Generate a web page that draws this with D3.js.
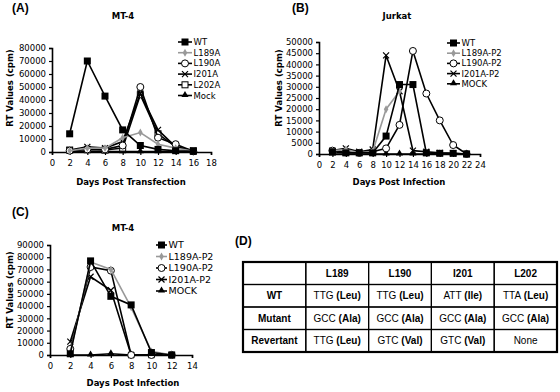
<!DOCTYPE html>
<html lang="en">
<head>
<meta charset="utf-8">
<script src="https://d3js.org/d3.v7.min.js"></script>
<style>
  body { margin: 0; background: #fff; }
  .tick text { font-family: "DejaVu Sans", Verdana, sans-serif; font-size: 8.5px; fill: #000; }
  .axisLbl { font-family: "DejaVu Sans", Verdana, sans-serif; font-size: 8.5px; font-weight: bold; }
  .title { font-family: "DejaVu Sans", Verdana, sans-serif; font-size: 8.5px; font-weight: bold; }
  .panel { font-family: "Liberation Sans", Arial, sans-serif; font-size: 12px; font-weight: bold; }
  .leg { font-family: "DejaVu Sans", Verdana, sans-serif; }
  .cell { font-family: "Liberation Sans", Arial, sans-serif; font-size: 10px; }
</style>
</head>
<body>
<script>
// ---- panel A : MT-4, days post transfection ----
var daysA = [2, 4, 6, 8, 10, 12, 14, 16];
var wtA    = [14000, 70000, 43000, 17000, 5000, 2000, 1000, 500];
var l189aA = [1000, 3000, 3000, 11000, 15000, 6000, 3000, 500];
var l190aA = [1000, 2000, 2000, 5000, 50000, 11000, 6000, 500];
var i201aA = [1500, 4000, 3000, 8000, 45000, 17000, 4000, 1000];
var l202aA = [1500, 2000, 1500, 3000, 44000, 14000, 4000, 1000];
var mockA  = [300, 300, 300, 300, 300, 300, 300, 300];
var namesA = ["WT", "L189A", "L190A", "I201A", "L202A", "Mock"];

// ---- panel B : Jurkat ----
var daysB = [2, 4, 6, 8, 10, 12, 14, 16, 18, 20, 22];
var wtB    = [1000, 500, 500, 500, 8000, 31000, 31000, 500, 300, 300, 0];
var l189bB = [1500, 2000, 500, 1000, 20000, 28000];
var l190bB = [1500, 1000, 500, 1000, 2500, 13000, 46000, 27000, 15000, 4000, 0];
var i201bB = [1500, 2500, 1000, 2000, 44000, 28000, 1500, 1000, 500, 300, 0];
var mockB  = [0, 0, 0, 0, 0, 0, 0, 0, 0, 0, 0];
var namesB = ["WT", "L189A-P2", "L190A-P2", "I201A-P2", "MOCK"];

// ---- panel C : MT-4, days post infection ----
var daysC = [2, 4, 6, 8, 10, 12];
var wtC    = [1000, 77000, 48000, 41000, 2000, 0];
var l189cC = [2000, 76000, 70000, 39000, 3000, 0];
var l190cC = [5000, 72000, 69000, 0, 0, 0];
var i201cC = [11000, 64000, 53000, 0, 0, 0];
var mockC  = [0, 0, 1000, 0, 0, 0];
var namesC = ["WT", "L189A-P2", "L190A-P2", "I201A-P2", "MOCK"];

// ---- panel D : table ----
var colHeads = ["", "L189", "L190", "I201", "L202"];
var rowHeads = ["WT", "Mutant", "Revertant"];
var codons = [["TTG", "TTG", "ATT", "TTA"],
              ["GCC", "GCC", "GCC", "GCC"],
              ["TTG", "GTC", "GTC", "None"]];
var aminos = [["Leu", "Leu", "Ile", "Leu"],
              ["Ala", "Ala", "Ala", "Ala"],
              ["Leu", "Val", "Val", ""]];

var svg = d3.select("body").append("svg")
    .attr("width", 560).attr("height", 392);

function marker(g, type, x, y) {
    if (type == "square") {
        g.append("rect").attr("x", x - 3.5).attr("y", y - 3.5).attr("width", 7).attr("height", 7)
            .attr("fill", "#000");
    } else if (type == "osquare") {
        g.append("rect").attr("x", x - 3).attr("y", y - 3).attr("width", 6).attr("height", 6)
            .attr("fill", "#fff").attr("stroke", "#000").attr("stroke-width", 1);
    } else if (type == "diamond") {
        g.append("path").attr("d", d3.symbol().type(d3.symbolDiamond).size(18)())
            .attr("transform", "translate(" + x + "," + y + ")").attr("fill", "#999");
    } else if (type == "circle") {
        g.append("circle").attr("cx", x).attr("cy", y).attr("r", 3.5)
            .attr("fill", "#fff").attr("stroke", "#000").attr("stroke-width", 1);
    } else if (type == "cross") {
        g.append("path").attr("d", "M" + (x - 3) + "," + (y - 3) + "L" + (x + 3) + "," + (y + 3) +
            "M" + (x - 3) + "," + (y + 3) + "L" + (x + 3) + "," + (y - 3))
            .attr("stroke", "#000").attr("stroke-width", 1.2);
    } else if (type == "triangle") {
        g.append("path").attr("d", d3.symbol().type(d3.symbolTriangle).size(22)())
            .attr("transform", "translate(" + x + "," + (y - 0.5) + ")").attr("fill", "#000");
    }
}

function drawPanel(opt) {
    var x = d3.scaleLinear().domain([0, opt.xmax]).range(opt.xr);
    var y = d3.scaleLinear().domain([0, opt.ymax]).range(opt.yr);

    var xAxis = svg.append("g").attr("transform", "translate(0," + opt.yr[0] + ")")
        .call(d3.axisBottom(x).tickValues(d3.range(0, opt.xmax + 1, 2)).tickSize(3).tickPadding(5));
    var yAxis = svg.append("g").attr("transform", "translate(" + opt.xr[0] + ",0)")
        .call(d3.axisLeft(y).tickValues(d3.range(0, opt.ymax + 1, opt.ystep))
            .tickSize(3).tickPadding(3).tickFormat(d3.format("d")));
    [xAxis, yAxis].forEach(function (a) {
        a.select(".domain").attr("stroke-width", 1.6);
        a.selectAll(".tick line").attr("stroke-width", 1.2);
    });

    var line = d3.line().x(function (d) { return x(d[0]); }).y(function (d) { return y(d[1]); });

    // draw last series first so WT ends on top
    opt.series.slice().reverse().forEach(function (s) {
        var pts = s.vals.map(function (v, i) { return [opt.days[i], v]; });
        var g = svg.append("g");
        g.append("path").attr("d", line(pts)).attr("fill", "none")
            .attr("stroke", s.color).attr("stroke-width", 1.6);
        pts.forEach(function (p) { marker(g, s.type, x(p[0]), y(p[1])); });
    });

    // legend
    opt.series.forEach(function (s, i) {
        var ly = opt.leg[1] + i * opt.leg[3];
        var g = svg.append("g");
        g.append("line").attr("x1", opt.leg[0]).attr("x2", opt.leg[0] + opt.leg[2])
            .attr("y1", ly).attr("y2", ly).attr("stroke", s.color).attr("stroke-width", 1.6);
        marker(g, s.type, opt.leg[0] + opt.leg[2] / 2, ly);
        svg.append("text").attr("class", "leg").style("font-size", opt.legFont + "px")
            .attr("x", opt.leg[0] + opt.leg[2] + 1.5)
            .attr("y", ly + opt.legFont * 0.36).text(s.name);
    });

    svg.append("text").attr("class", "title").attr("text-anchor", "middle")
        .attr("x", opt.titlePos[0]).attr("y", opt.titlePos[1]).text(opt.title);
    svg.append("text").attr("class", "axisLbl").attr("text-anchor", "middle")
        .attr("x", opt.xlblPos[0]).attr("y", opt.xlblPos[1]).text(opt.xlbl);
    svg.append("text").attr("class", "axisLbl").attr("text-anchor", "middle")
        .attr("transform", "translate(" + opt.ylblPos[0] + "," + opt.ylblPos[1] + ") rotate(-90)")
        .text("RT Values (cpm)");
    svg.append("text").attr("class", "panel").attr("x", opt.panelPos[0]).attr("y", opt.panelPos[1])
        .text(opt.panel);
}

var types6 = ["square", "diamond", "circle", "cross", "osquare", "triangle"];
var types5 = ["square", "diamond", "circle", "cross", "triangle"];
function colorOf(t) { return t == "diamond" ? "#999" : "#000"; }
function makeSeries(vals, names, types) {
    return vals.map(function (v, i) {
        return {vals: v, name: names[i], type: types[i], color: colorOf(types[i])};
    });
}

drawPanel({
    days: daysA, xmax: 18, ymax: 80000, ystep: 10000, xr: [52, 211], yr: [152, 48],
    series: makeSeries([wtA, l189aA, l190aA, i201aA, l202aA, mockA], namesA, types6),
    leg: [178, 42, 14, 10.7], legFont: 8.5, title: "MT-4", titlePos: [123, 19],
    xlbl: "Days Post Transfection", xlblPos: [131, 185], ylblPos: [13, 88],
    panel: "(A)", panelPos: [12, 12]
});

drawPanel({
    days: daysB, xmax: 24, ymax: 50000, ystep: 5000, xr: [319, 480], yr: [154, 42],
    series: makeSeries([wtB, l189bB, l190bB, i201bB, mockB], namesB, types5),
    leg: [447, 43, 13, 10.2], legFont: 8.5, title: "Jurkat", titlePos: [397, 19],
    xlbl: "Days Post Infection", xlblPos: [399, 185], ylblPos: [282, 88],
    panel: "(B)", panelPos: [292, 12]
});

drawPanel({
    days: daysC, xmax: 14, ymax: 90000, ystep: 10000, xr: [50, 192], yr: [355, 245],
    series: makeSeries([wtC, l189cC, l190cC, i201cC, mockC], namesC, types5),
    leg: [156, 245, 11, 11.5], legFont: 9.5, title: "MT-4", titlePos: [123, 231],
    xlbl: "Days Post Infection", xlblPos: [133, 386], ylblPos: [13, 290],
    panel: "(C)", panelPos: [12, 216]
});

// ---- table (D) ----
var cx = d3.scaleBand().domain(d3.range(colHeads.length)).range([243, 557]);
var ry = d3.scaleBand().domain(d3.range(rowHeads.length + 1)).range([262, 352]);
var tg = svg.append("g");
svg.append("text").attr("class", "panel").attr("x", 235).attr("y", 245).text("(D)");

for (var r = 0; r <= rowHeads.length; r++) {
    for (var c = 0; c < colHeads.length; c++) {
        tg.append("rect").attr("x", cx(c)).attr("y", ry(r))
            .attr("width", cx.bandwidth()).attr("height", ry.bandwidth())
            .attr("fill", "none").attr("stroke", "#000").attr("stroke-width", 1.2);
        var t = tg.append("text").attr("class", "cell").attr("text-anchor", "middle")
            .attr("x", cx(c) + cx.bandwidth() / 2).attr("y", ry(r) + ry.bandwidth() / 2 + 3.5);
        if (r == 0) {
            t.attr("font-weight", "bold").text(colHeads[c]);
        } else if (c == 0) {
            t.attr("font-weight", "bold").text(rowHeads[r - 1]);
        } else {
            t.append("tspan").text(codons[r - 1][c - 1]);
            if (aminos[r - 1][c - 1] != "")
                t.append("tspan").attr("font-weight", "bold").text(" (" + aminos[r - 1][c - 1] + ")");
        }
    }
}
tg.append("rect").attr("x", 243).attr("y", 262).attr("width", 314).attr("height", 90)
    .attr("fill", "none").attr("stroke", "#000").attr("stroke-width", 2.2);
</script>
</body>
</html>
